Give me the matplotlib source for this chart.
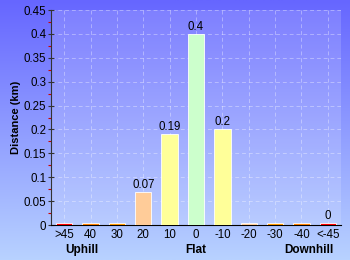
import matplotlib
matplotlib.use("Agg")
import matplotlib.pyplot as plt
import numpy as np
from matplotlib.colors import LinearSegmentedColormap
from matplotlib.ticker import MultipleLocator

plt.rcParams['font.family'] = ['Liberation Sans', 'DejaVu Sans']

categories = [">45", "40", "30", "20", "10", "0", "-10", "-20", "-30", "-40", "<-45"]
values = [0.004, 0.004, 0.004, 0.07, 0.19, 0.4, 0.2, 0.004, 0.004, 0.004, 0.004]
bar_colors = ["#ff0000", "#ff8000", "#ff9900", "#ffcc99", "#ffff99", "#ccffcc",
              "#ffff99", "#ffcc99", "#ff9900", "#ff8000", "#ff0000"]
labels = ["", "", "", "0.07", "0.19", "0.4", "0.2", "", "", "", "0"]
groups = [("Uphill", 0.65), ("Flat", 5), ("Downhill", 9.3)]

fig = plt.figure(figsize=(3.5, 2.6), dpi=100)
bg = fig.add_axes([0, 0, 1, 1], zorder=-10)
cmap = LinearSegmentedColormap.from_list("bg", ["#6666ff", "#b8d2ff"])
bg.imshow(np.linspace(0, 1, 256).reshape(-1, 1), aspect="auto", cmap=cmap,
          extent=[0, 1, 0, 1], origin="upper")
bg.axis("off")

ax = fig.add_axes([51/350, 35/260, 290/350, 215/260])
ax.set_facecolor((1, 1, 1, 0.15))
x = np.arange(len(categories))
ax.bar(x, values, width=0.62, color=bar_colors, edgecolor="white", linewidth=0.6, zorder=3)
for xi, v, lab in zip(x, values, labels):
    if lab:
        ax.text(xi, v + 0.002, lab, ha="center", va="bottom", fontsize=8.3, color="#000000", zorder=4)

ax.set_xlim(-0.5, len(categories) - 0.5)
ax.set_ylim(0, 0.45)
ax.set_xticks(x)
ax.set_xticklabels(categories, fontsize=8.3)
ax.yaxis.set_minor_locator(MultipleLocator(0.025))
ax.set_yticks(np.arange(0, 0.451, 0.05))
ax.set_yticklabels(["0", "0.05", "0.1", "0.15", "0.2", "0.25", "0.3", "0.35", "0.4", "0.45"], fontsize=8.3)
ax.tick_params(axis="y", which="major", length=5, width=0.8, color="#333333", pad=1, direction="inout")
ax.tick_params(axis="y", which="minor", length=2.5, width=0.8, color="#cc0000")
ax.tick_params(axis="x", length=0, pad=3)
ax.grid(True, color="white", alpha=0.35, linestyle=(0, (4, 3)), linewidth=0.7, zorder=0)
for s in ["top", "right"]:
    ax.spines[s].set_visible(False)
ax.spines["left"].set_color("#333333")
ax.spines["bottom"].set_color("#000000")
ax.set_ylabel("Distance (km)", fontsize=8, fontweight="bold", labelpad=2)

for name, pos in groups:
    ax.annotate(name, xy=(pos, 0), xycoords=("data", "axes fraction"),
                xytext=(0, -18), textcoords="offset points",
                ha="center", va="center", fontsize=8.5, fontweight="bold", annotation_clip=False)

fig.savefig("out.png", dpi=100)
